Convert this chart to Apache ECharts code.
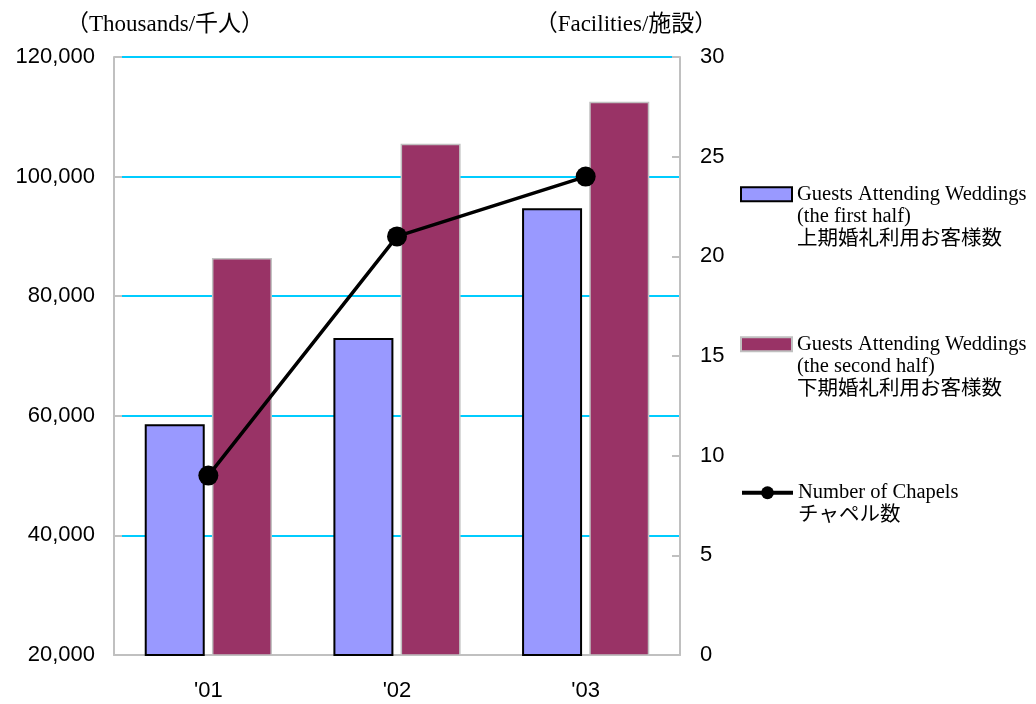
<!DOCTYPE html>
<html>
<head>
<meta charset="utf-8">
<script src="https://cdn.jsdelivr.net/npm/echarts@6/dist/echarts.min.js"></script>
<style>
html,body{margin:0;padding:0;background:#fff;}
#chart{width:1036px;height:704px;}
</style>
</head>
<body>
<div id="chart"></div>
<script>
var categories = ["'01", "'02", "'03"];
var firstHalf = [58600, 73000, 94700];
var secondHalf = [86400, 105500, 112500];
var chapels = [9, 21, 24];

var nameFirst = 'Guests Attending Weddings\n(the first half)\n上期婚礼利用お客様数';
var nameSecond = 'Guests Attending Weddings\n(the second half)\n下期婚礼利用お客様数';
var nameChapel = 'Number of Chapels\nチャペル数';

var serif = '"Liberation Serif", "Noto Sans CJK JP", serif';
var sans = '"Liberation Sans", Arial, sans-serif';

function legendCfg(name, top, pre, icon, h, lw) {
  var cfg = {
    orient: 'vertical',
    left: 740,
    top: top,
    padding: 0,
    itemWidth: 51,
    itemHeight: h,
    itemGap: 0,
    data: [{ name: name, icon: icon }],
    formatter: function (n) { return pre + n; },
    textStyle: { fontFamily: serif, fontSize: 20.5, lineHeight: 22.5, color: '#000' }
  };
  if (lw) cfg.lineStyle = { width: lw };
  return cfg;
}

var chart = echarts.init(document.getElementById('chart'));
chart.setOption({
  animation: false,
  backgroundColor: '#fff',
  title: [
    { text: '（Thousands/千人）', left: 160, top: 8, textAlign: 'center',
      textStyle: { fontFamily: serif, fontSize: 23, fontWeight: 'normal', color: '#000' } },
    { text: '（Facilities/施設）', left: 621, top: 8, textAlign: 'center',
      textStyle: { fontFamily: serif, fontSize: 23, fontWeight: 'normal', color: '#000' } }
  ],
  legend: [
    legendCfg(nameFirst, 138, '\n\n', 'rect', 14),
    legendCfg(nameSecond, 288, '\n\n', 'rect', 14),
    legendCfg(nameChapel, 459, '\n', undefined, 16, 4)
  ],
  grid: { left: 114, right: 356, top: 57, bottom: 49, containLabel: false },
  xAxis: {
    type: 'category',
    data: categories,
    axisLine: { lineStyle: { color: '#c0c0c0', width: 2 } },
    axisTick: { inside: true, length: 8, lineStyle: { color: '#c0c0c0', width: 2 } },
    axisLabel: { fontFamily: sans, fontSize: 22, color: '#000', margin: 25 }
  },
  yAxis: [
    {
      type: 'value', min: 20000, max: 120000, interval: 20000,
      axisLine: { show: true, lineStyle: { color: '#c0c0c0', width: 2 } },
      axisTick: { show: true, inside: true, length: 8, lineStyle: { color: '#c0c0c0', width: 2 } },
      splitLine: { show: true, lineStyle: { color: '#00ccff', width: 2 } },
      axisLabel: { fontFamily: sans, fontSize: 22, color: '#000', margin: 19,
        formatter: function (v) { return v.toLocaleString('en-US'); } }
    },
    {
      type: 'value', min: 0, max: 30, interval: 5,
      axisLine: { show: true, lineStyle: { color: '#c0c0c0', width: 2 } },
      axisTick: { show: true, inside: true, length: 8, lineStyle: { color: '#c0c0c0', width: 2 } },
      splitLine: { show: false },
      axisLabel: { fontFamily: sans, fontSize: 22, color: '#000', margin: 20 }
    }
  ],
  series: [
    {
      name: nameFirst, type: 'bar', yAxisIndex: 0, data: firstHalf,
      barWidth: 60, barGap: '12%',
      itemStyle: { color: '#9999ff', borderColor: '#000', borderWidth: 2 }
    },
    {
      name: nameSecond, type: 'bar', yAxisIndex: 0, data: secondHalf,
      barWidth: 60,
      itemStyle: { color: '#993366', borderColor: '#c0c0c0', borderWidth: 1.5 }
    },
    {
      name: nameChapel, type: 'line', yAxisIndex: 1, data: chapels,
      symbol: 'circle', symbolSize: 20,
      lineStyle: { color: '#000', width: 3.5 },
      itemStyle: { color: '#000' },
      z: 5
    }
  ]
});
</script>
</body>
</html>
